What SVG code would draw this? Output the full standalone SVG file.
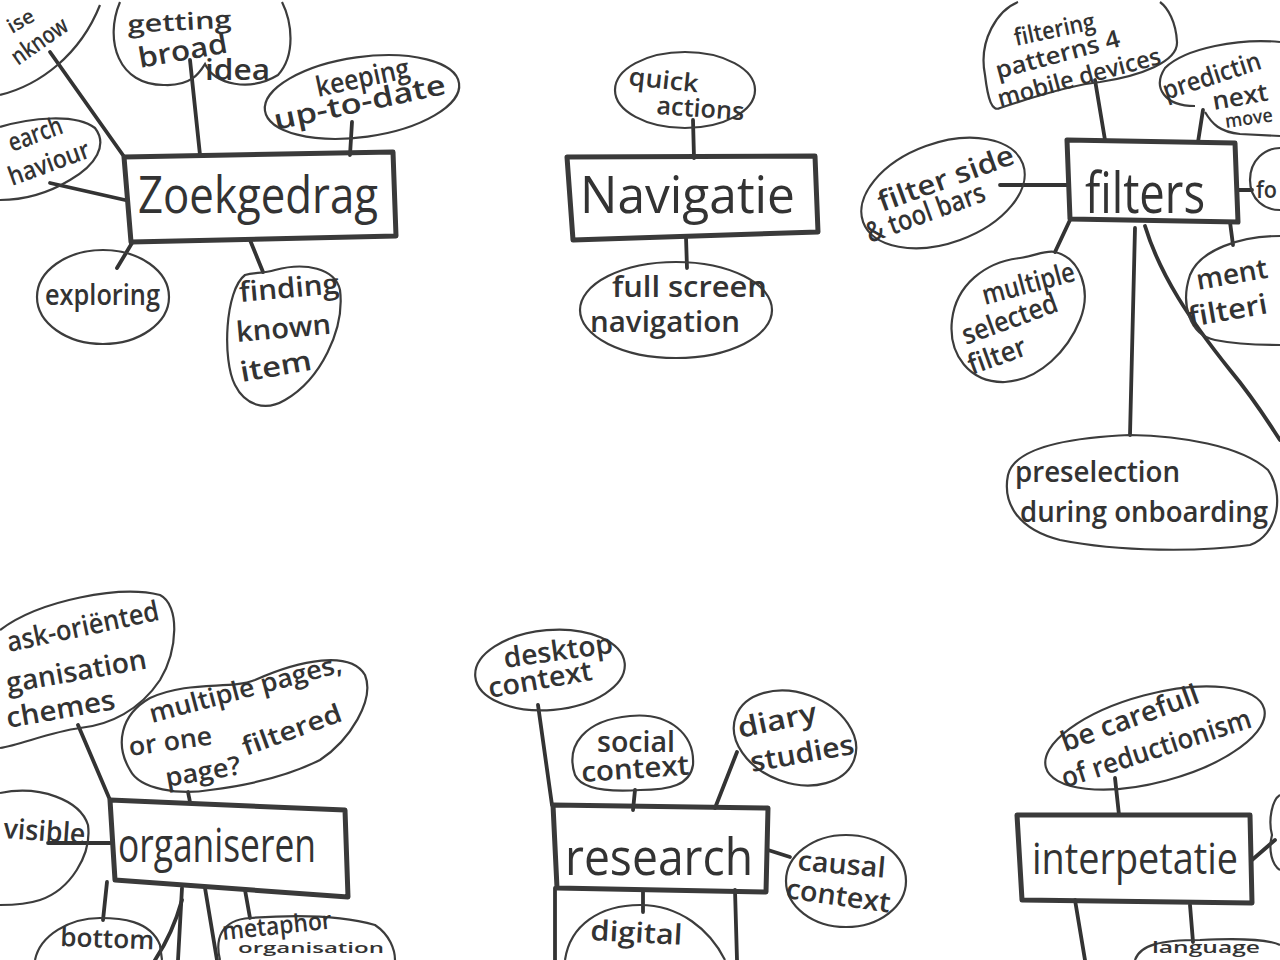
<svg xmlns="http://www.w3.org/2000/svg" width="1280" height="960" viewBox="0 0 1280 960">
<style>
.bg{fill:#ffffff}
.box{fill:none;stroke:#3a3a3a;stroke-width:5;stroke-linejoin:round}
.bub{fill:none;stroke:#3c3c3c;stroke-width:2.2}
.con{fill:none;stroke:#333;stroke-width:3.8;stroke-linecap:round}
.t{font-family:"Open Sans","Liberation Sans",sans-serif;font-weight:600;fill:#333;font-size:28px}
.h{font-family:"Open Sans","Liberation Sans",sans-serif;font-weight:400;fill:#333;font-size:52px}
</style>
<rect class="bg" x="0" y="0" width="1280" height="960"/>

<g id="connectors">
  <path class="con" d="M50,52 L125,158"/>
  <path class="con" d="M50,183 L125,200"/>
  <path class="con" d="M190,60 L200,155"/>
  <path class="con" d="M352,122 L350,155"/>
  <path class="con" d="M132,243 L117,268"/>
  <path class="con" d="M250,240 L263,272"/>
  <path class="con" d="M693,120 L694,158"/>
  <path class="con" d="M686,237 L687,268"/>
  <path class="con" d="M1095,80 L1105,140"/>
  <path class="con" d="M1198,142 L1203,110"/>
  <path class="con" d="M1237,190 L1252,190"/>
  <path class="con" d="M1230,222 L1233,245"/>
  <path class="con" d="M1000,185 L1067,185"/>
  <path class="con" d="M1070,220 L1055,252"/>
  <path class="con" d="M1135,228 L1130,435"/>
  <path class="con" d="M1145,226 C1160,275 1190,320 1230,370 C1255,400 1270,425 1280,440"/>
  <path class="con" d="M78,725 L110,800"/>
  <path class="con" d="M188,792 L190,802"/>
  <path class="con" d="M48,843 L110,843"/>
  <path class="con" d="M107,882 L103,920"/>
  <path class="con" d="M182,888 L178,960"/>
  <path class="con" d="M182,900 C175,925 165,945 155,960"/>
  <path class="con" d="M205,888 L217,960"/>
  <path class="con" d="M245,890 L250,918"/>
  <path class="con" d="M538,705 L552,805"/>
  <path class="con" d="M635,790 L633,810"/>
  <path class="con" d="M737,752 L715,808"/>
  <path class="con" d="M768,850 L790,857"/>
  <path class="con" d="M643,890 L643,912"/>
  <path class="con" d="M555,888 L555,960"/>
  <path class="con" d="M735,890 L737,960"/>
  <path class="con" d="M1115,778 L1119,815"/>
  <path class="con" d="M1075,900 L1085,960"/>
  <path class="con" d="M1190,905 L1193,942"/>
  <path class="con" d="M1252,860 L1275,840"/>
</g>

<g id="zoekgedrag">
  <path class="box" d="M124,157 L393,152 L396,236 L131,242 Z"/>
  <text class="h" x="138" y="213" textLength="240" lengthAdjust="spacingAndGlyphs">Zoekgedrag</text>
</g>
<g id="getting-broad-idea">
  <path class="bub" d="M120,2 C104,40 118,86 165,85 C192,86 200,72 205,64 C215,85 250,92 278,75 C296,55 292,22 282,2"/>
  <text class="t" x="128" y="33" style="font-size:24px" textLength="104" lengthAdjust="spacingAndGlyphs" transform="rotate(-3 128 33)">getting</text>
  <text class="t" x="140" y="68" textLength="90" lengthAdjust="spacingAndGlyphs" transform="rotate(-10 140 68)">broad</text>
  <text class="t" x="205" y="80" textLength="65" lengthAdjust="spacingAndGlyphs">idea</text>
</g>
<g id="keeping-up-to-date">
  <ellipse class="bub" cx="362" cy="97" rx="98" ry="40" transform="rotate(-8 362 97)"/>
  <text class="t" x="318" y="97" textLength="95" lengthAdjust="spacingAndGlyphs" transform="rotate(-12 318 97)">keeping</text>
  <text class="t" x="276" y="130" textLength="175" lengthAdjust="spacingAndGlyphs" transform="rotate(-12 276 130)">up-to-date</text>
</g>
<g id="search-behaviour">
  <path class="bub" d="M0,127 C30,118 75,113 95,128 C108,145 96,165 70,180 C45,195 20,200 0,200"/>
  <text class="t" x="12" y="152" style="font-size:26px" textLength="56" lengthAdjust="spacingAndGlyphs" transform="rotate(-20 12 152)">earch</text>
  <text class="t" x="12" y="186" style="font-size:26px" textLength="85" lengthAdjust="spacingAndGlyphs" transform="rotate(-20 12 186)">haviour</text>
</g>
<g id="unknown">
  <path class="bub" d="M0,95 C40,85 80,55 100,5"/>
  <text class="t" x="12" y="34" style="font-size:20px" textLength="28" lengthAdjust="spacingAndGlyphs" transform="rotate(-30 12 34)">ise</text>
  <text class="t" x="18" y="66" style="font-size:24px" textLength="64" lengthAdjust="spacingAndGlyphs" transform="rotate(-35 18 66)">nknow</text>
</g>
<g id="exploring">
  <ellipse class="bub" cx="103" cy="297" rx="66" ry="47"/>
  <text class="t" x="45" y="305" textLength="115" lengthAdjust="spacingAndGlyphs">exploring</text>
</g>
<g id="finding-known-item">
  <path class="bub" d="M245,275 C225,290 222,360 235,385 C245,405 265,412 285,400 C320,380 345,330 340,290 C335,268 305,262 275,270 C262,274 255,272 245,275 Z"/>
  <text class="t" x="240" y="302" textLength="100" lengthAdjust="spacingAndGlyphs" transform="rotate(-5 240 302)">finding</text>
  <text class="t" x="237" y="342" textLength="95" lengthAdjust="spacingAndGlyphs" transform="rotate(-5 237 342)">known</text>
  <text class="t" x="242" y="382" textLength="72" lengthAdjust="spacingAndGlyphs" transform="rotate(-10 242 382)">item</text>
</g>

<g id="navigatie">
  <path class="box" d="M567,157 L815,156 L818,232 L573,240 Z"/>
  <text class="h" x="580" y="213" textLength="215" lengthAdjust="spacingAndGlyphs">Navigatie</text>
</g>
<g id="quick-actions">
  <ellipse class="bub" cx="685" cy="90" rx="70" ry="38"/>
  <text class="t" x="628" y="85" style="font-size:25px" textLength="70" lengthAdjust="spacingAndGlyphs" transform="rotate(6 628 85)">quick</text>
  <text class="t" x="656" y="114" style="font-size:25px" textLength="88" lengthAdjust="spacingAndGlyphs" transform="rotate(4 656 114)">actions</text>
</g>
<g id="full-screen-navigation">
  <ellipse class="bub" cx="676" cy="310" rx="96" ry="48"/>
  <text class="t" x="612" y="297" textLength="155" lengthAdjust="spacingAndGlyphs">full screen</text>
  <text class="t" x="590" y="332" textLength="150" lengthAdjust="spacingAndGlyphs">navigation</text>
</g>

<g id="filters">
  <path class="box" d="M1067,140 L1235,143 L1238,222 L1070,219 Z"/>
  <text class="h" x="1085" y="213" textLength="120" lengthAdjust="spacingAndGlyphs" style="font-size:56px">filters</text>
</g>
<g id="filtering-patterns">
  <path class="bub" d="M1018,2 C998,10 978,40 985,75 C988,100 992,112 1000,108 C1030,98 1070,85 1100,82 C1140,76 1178,62 1177,42 C1176,22 1168,8 1160,2"/>
  <text class="t" x="1016" y="46" style="font-size:24px" textLength="82" lengthAdjust="spacingAndGlyphs" transform="rotate(-12 1016 46)">filtering</text>
  <text class="t" x="998" y="79" style="font-size:24px" textLength="128" lengthAdjust="spacingAndGlyphs" transform="rotate(-15 998 79)">patterns 4</text>
  <text class="t" x="1000" y="107" style="font-size:24px" textLength="168" lengthAdjust="spacingAndGlyphs" transform="rotate(-15 1000 107)">mobile devices</text>
</g>
<g id="predicting">
  <path class="bub" d="M1280,42 C1240,38 1185,48 1165,68 C1152,88 1165,106 1195,106 M1205,112 C1212,124 1220,132 1240,134 L1280,136"/>
  <text class="t" x="1166" y="100" style="font-size:26px" textLength="102" lengthAdjust="spacingAndGlyphs" transform="rotate(-18 1166 100)">predictin</text>
  <text class="t" x="1214" y="110" style="font-size:25px" textLength="56" lengthAdjust="spacingAndGlyphs" transform="rotate(-10 1214 110)">next</text>
  <text class="t" x="1226" y="128" style="font-size:19px" textLength="48" lengthAdjust="spacingAndGlyphs" transform="rotate(-8 1226 128)">move</text>
</g>
<g id="fo">
  <path class="bub" d="M1280,148 C1265,148 1250,160 1250,180 C1250,200 1265,210 1280,210"/>
  <text class="t" x="1256" y="198" style="font-size:24px" textLength="21" lengthAdjust="spacingAndGlyphs">fo</text>
</g>
<g id="mental-filtering">
  <path class="bub" d="M1280,236 C1240,236 1200,250 1190,275 C1180,305 1190,335 1215,340 C1240,345 1265,345 1280,345"/>
  <text class="t" x="1198" y="290" textLength="72" lengthAdjust="spacingAndGlyphs" transform="rotate(-10 1198 290)">ment</text>
  <text class="t" x="1190" y="327" textLength="80" lengthAdjust="spacingAndGlyphs" transform="rotate(-10 1190 327)">filteri</text>
</g>
<g id="filter-side-toolbars">
  <ellipse class="bub" cx="943" cy="193" rx="85" ry="50" transform="rotate(-20 943 193)"/>
  <text class="t" x="882" y="212" textLength="143" lengthAdjust="spacingAndGlyphs" transform="rotate(-20 882 212)">filter side</text>
  <text class="t" x="870" y="243" textLength="125" lengthAdjust="spacingAndGlyphs" transform="rotate(-20 870 243)">&amp; tool bars</text>
</g>
<g id="multiple-selected-filter">
  <path class="bub" d="M1055,252 C1080,258 1092,290 1080,320 C1068,350 1040,380 1005,382 C970,383 948,355 952,320 C956,285 985,262 1020,258 C1035,256 1045,250 1055,252 Z"/>
  <text class="t" x="985" y="305" textLength="95" lengthAdjust="spacingAndGlyphs" transform="rotate(-15 985 305)">multiple</text>
  <text class="t" x="966" y="345" textLength="100" lengthAdjust="spacingAndGlyphs" transform="rotate(-20 966 345)">selected</text>
  <text class="t" x="972" y="375" textLength="60" lengthAdjust="spacingAndGlyphs" transform="rotate(-20 972 375)">filter</text>
</g>
<g id="preselection">
  <path class="bub" d="M1130,435 C1180,436 1240,445 1268,470 C1285,495 1278,535 1250,545 C1200,552 1120,552 1060,540 C1020,530 1002,505 1008,475 C1014,450 1060,438 1130,435 Z"/>
  <text class="t" x="1015" y="482" textLength="165" lengthAdjust="spacingAndGlyphs">preselection</text>
  <text class="t" x="1020" y="522" textLength="248" lengthAdjust="spacingAndGlyphs">during onboarding</text>
</g>

<g id="organiseren">
  <path class="box" d="M110,800 L345,810 L348,897 L115,880 Z"/>
  <text class="h" x="118" y="862" textLength="198" lengthAdjust="spacingAndGlyphs" style="font-size:48px">organiseren</text>
</g>
<g id="task-oriented">
  <path class="bub" d="M0,630 C40,600 120,585 160,595 C180,605 178,650 160,680 C140,710 110,725 80,728 C50,732 20,745 0,748"/>
  <text class="t" x="9" y="652" textLength="155" lengthAdjust="spacingAndGlyphs" transform="rotate(-12 9 652)">ask-oriënted</text>
  <text class="t" x="8" y="693" textLength="142" lengthAdjust="spacingAndGlyphs" transform="rotate(-10 8 693)">ganisation</text>
  <text class="t" x="8" y="728" textLength="110" lengthAdjust="spacingAndGlyphs" transform="rotate(-10 8 728)">chemes</text>
</g>
<g id="multiple-pages">
  <path class="bub" d="M130,770 C115,745 120,715 150,698 C190,680 230,690 255,680 C300,660 350,650 365,675 C375,700 350,740 320,760 C290,775 250,785 210,790 C180,795 140,790 130,770 Z"/>
  <text class="t" x="152" y="723" style="font-size:26px" textLength="198" lengthAdjust="spacingAndGlyphs" transform="rotate(-15 152 723)">multiple pages,</text>
  <text class="t" x="130" y="756" style="font-size:26px" textLength="84" lengthAdjust="spacingAndGlyphs" transform="rotate(-8 130 756)">or one</text>
  <text class="t" x="246" y="756" style="font-size:26px" textLength="104" lengthAdjust="spacingAndGlyphs" transform="rotate(-20 246 756)">filtered</text>
  <text class="t" x="167" y="787" style="font-size:26px" textLength="76" lengthAdjust="spacingAndGlyphs" transform="rotate(-10 167 787)">page?</text>
</g>
<g id="visible">
  <path class="bub" d="M0,793 C40,785 80,800 88,825 C92,855 70,890 40,900 C25,905 10,905 0,905"/>
  <text class="t" x="3" y="838" textLength="82" lengthAdjust="spacingAndGlyphs" transform="rotate(4 3 838)">visible</text>
</g>
<g id="bottom">
  <path class="bub" d="M35,960 C40,935 70,918 100,918 C120,918 150,920 160,945 L162,960"/>
  <text class="t" x="60" y="946" style="font-size:26px" textLength="94" lengthAdjust="spacingAndGlyphs" transform="rotate(2 60 946)">bottom</text>
</g>
<g id="metaphor">
  <path class="bub" d="M220,960 C215,940 220,920 250,918 C290,915 340,915 375,925 C390,935 395,950 395,960"/>
  <text class="t" x="223" y="940" style="font-size:25px" textLength="110" lengthAdjust="spacingAndGlyphs" transform="rotate(-6 223 940)">metaphor</text>
  <text class="t" x="238" y="953" style="font-size:15px" textLength="146" lengthAdjust="spacingAndGlyphs">organisation</text>
</g>

<g id="research">
  <path class="box" d="M553,805 L768,808 L766,892 L557,888 Z"/>
  <text class="h" x="565" y="875" textLength="188" lengthAdjust="spacingAndGlyphs">research</text>
</g>
<g id="desktop-context">
  <ellipse class="bub" cx="550" cy="670" rx="75" ry="40" transform="rotate(-5 550 670)"/>
  <text class="t" x="505" y="668" textLength="110" lengthAdjust="spacingAndGlyphs" transform="rotate(-8 505 668)">desktop</text>
  <text class="t" x="490" y="698" textLength="105" lengthAdjust="spacingAndGlyphs" transform="rotate(-10 490 698)">context</text>
</g>
<g id="social-context">
  <path class="bub" d="M575,775 C565,745 585,720 630,716 C670,712 695,735 693,765 C690,785 670,790 640,790 C610,792 582,790 575,775 Z"/>
  <text class="t" x="597" y="752" textLength="78" lengthAdjust="spacingAndGlyphs">social</text>
  <text class="t" x="582" y="782" textLength="108" lengthAdjust="spacingAndGlyphs" transform="rotate(-4 582 782)">context</text>
</g>
<g id="diary-studies">
  <ellipse class="bub" cx="795" cy="738" rx="63" ry="45" transform="rotate(20 795 738)"/>
  <text class="t" x="740" y="738" textLength="80" lengthAdjust="spacingAndGlyphs" transform="rotate(-12 740 738)">diary</text>
  <text class="t" x="752" y="772" textLength="105" lengthAdjust="spacingAndGlyphs" transform="rotate(-10 752 772)">studies</text>
</g>
<g id="causal-context">
  <ellipse class="bub" cx="846" cy="881" rx="60" ry="46"/>
  <text class="t" x="797" y="870" textLength="88" lengthAdjust="spacingAndGlyphs" transform="rotate(5 797 870)">causal</text>
  <text class="t" x="785" y="898" textLength="105" lengthAdjust="spacingAndGlyphs" transform="rotate(8 785 898)">context</text>
</g>
<g id="digital">
  <path class="bub" d="M565,960 C570,925 600,905 640,905 C680,905 710,930 725,960"/>
  <text class="t" x="590" y="940" textLength="92" lengthAdjust="spacingAndGlyphs" transform="rotate(3 590 940)">digital</text>
</g>

<g id="interpetatie">
  <path class="box" d="M1017,815 L1250,815 L1252,903 L1022,900 Z"/>
  <text class="h" x="1032" y="874" style="font-size:44px" textLength="206" lengthAdjust="spacingAndGlyphs">interpetatie</text>
</g>
<g id="be-carefull">
  <ellipse class="bub" cx="1155" cy="738" rx="113" ry="44" transform="rotate(-15 1155 738)"/>
  <text class="t" x="1065" y="752" textLength="145" lengthAdjust="spacingAndGlyphs" transform="rotate(-20 1065 752)">be carefull</text>
  <text class="t" x="1065" y="788" textLength="198" lengthAdjust="spacingAndGlyphs" transform="rotate(-18 1065 788)">of reductionism</text>
</g>
<g id="right-bubble">
  <path class="bub" d="M1280,795 C1272,800 1268,820 1272,835 C1268,850 1272,865 1280,870"/>
</g>
<g id="language">
  <path class="bub" d="M1135,960 C1140,945 1160,940 1200,940 C1240,938 1270,940 1280,945"/>
  <text class="t" x="1152" y="953" style="font-size:17px" textLength="108" lengthAdjust="spacingAndGlyphs">language</text>
</g>
</svg>
